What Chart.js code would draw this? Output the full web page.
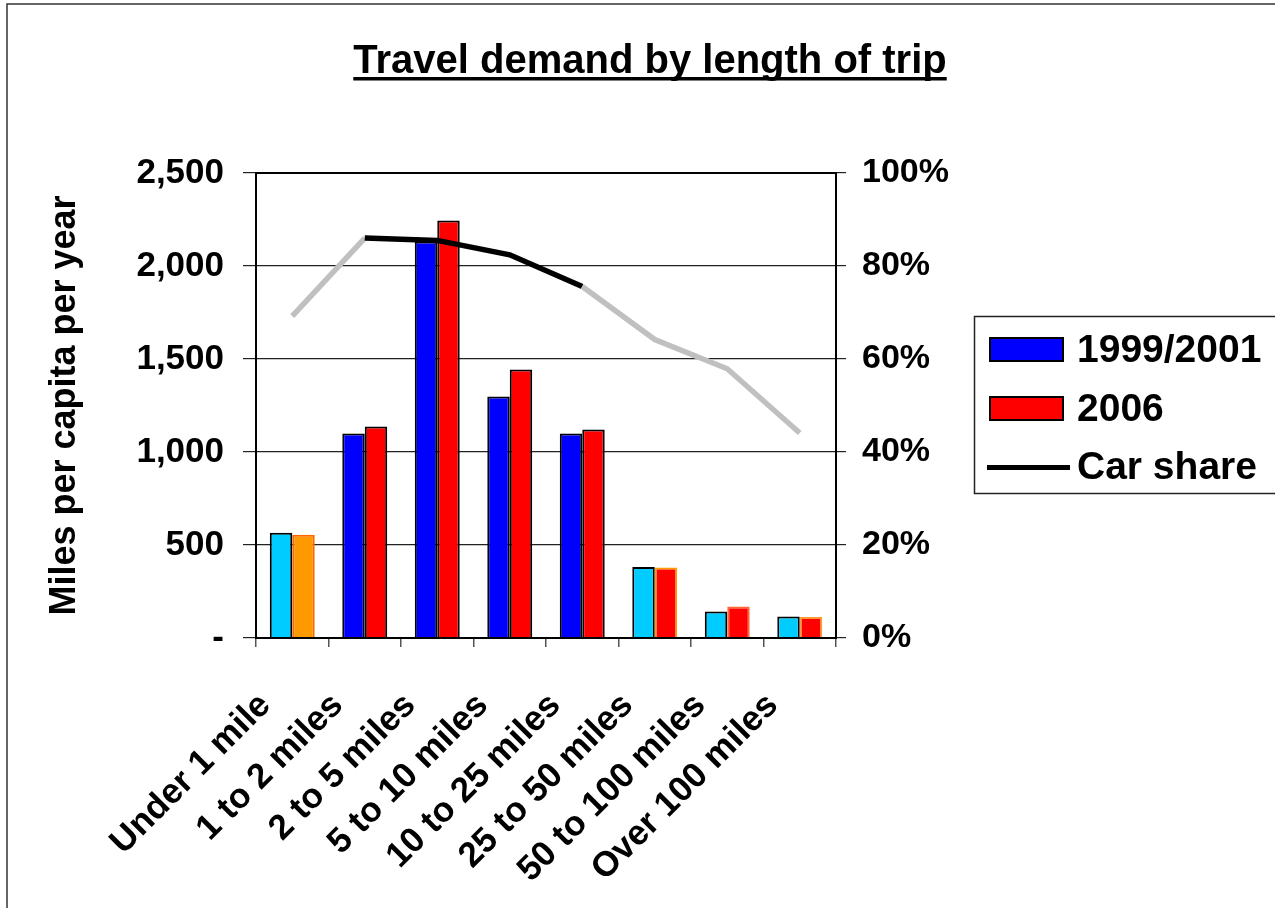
<!DOCTYPE html>
<html><head><meta charset="utf-8">
<script src="https://cdn.jsdelivr.net/npm/chart.js@4/dist/chart.umd.min.js"></script>
<style>html,body{margin:0;padding:0;background:#fff;overflow:hidden}</style>
</head><body>
<canvas id="c" width="1275" height="908"></canvas>
<script>
const categories = ['Under 1 mile','1 to 2 miles','2 to 5 miles','5 to 10 miles','10 to 25 miles','25 to 50 miles','50 to 100 miles','Over 100 miles'];
const miles1999 = [566, 1100, 2132, 1298, 1100, 382, 143, 116];
const miles2006 = [555, 1137, 2244, 1443, 1121, 379, 170, 113];
const carShare = [0.692, 0.860, 0.855, 0.824, 0.756, 0.642, 0.579, 0.441];
const leftTicks = [0, 500, 1000, 1500, 2000, 2500];
const rightTicks = [0, 0.2, 0.4, 0.6, 0.8, 1.0];
const seriesNames = ['1999/2001', '2006', 'Car share'];

const fill1999 = ['#00CCFF','#0000FF','#0000FF','#0000FF','#0000FF','#00CCFF','#00CCFF','#00CCFF'];
const edge1999 = ['#000','#000','#000','#000','#000','#000','#000','#000'];
const fill2006 = ['#FF9900','#FF0000','#FF0000','#FF0000','#FF0000','#FF0000','#FF0000','#FF0000'];
const edge2006 = ['#FF6600','#000','#000','#000','#000','#FF9900','#FF6633','#FF9933'];
const blackSegments = [1, 2, 3]; // segment index (from point i to i+1) drawn black

const FONT = '"Liberation Sans", Arial, sans-serif';

const decor = {
  id: 'decor',
  beforeDraw(chart) {
    const ctx = chart.ctx;
    ctx.save();
    ctx.fillStyle = '#fff';
    ctx.fillRect(0, 0, chart.width, chart.height);
    ctx.restore();
  },
  afterDraw(chart) {
    const ctx = chart.ctx;
    const a = chart.chartArea;
    ctx.save();
    // outer frame (top + left)
    ctx.strokeStyle = '#333';
    ctx.lineWidth = 1.5;
    ctx.beginPath();
    ctx.moveTo(7, 910); ctx.lineTo(7, 4); ctx.lineTo(1280, 4);
    ctx.stroke();
    // plot border
    ctx.strokeStyle = '#000';
    ctx.lineWidth = 2;
    ctx.strokeRect(a.left, a.top, a.right - a.left, a.bottom - a.top);
    // title
    ctx.fillStyle = '#000';
    ctx.font = 'bold 40px ' + FONT;
    ctx.textAlign = 'center';
    ctx.textBaseline = 'alphabetic';
    const t = 'Travel demand by length of trip';
    const cx = 650;
    ctx.fillText(t, cx, 73);
    const w = ctx.measureText(t).width;
    ctx.fillRect(cx - w / 2, 77, w, 3.5);
    // legend
    ctx.lineWidth = 1.5;
    ctx.strokeStyle = '#222';
    ctx.strokeRect(974.5, 316.5, 320, 177);
    ctx.font = 'bold 39px ' + FONT;
    ctx.textAlign = 'left';
    ctx.textBaseline = 'middle';
    const rows = [350, 409];
    [['#0000FF', seriesNames[0]], ['#FF0000', seriesNames[1]]].forEach((item, i) => {
      ctx.fillStyle = item[0];
      ctx.fillRect(990, rows[i] - 12, 73, 23);
      ctx.strokeStyle = '#000';
      ctx.lineWidth = 2;
      ctx.strokeRect(990, rows[i] - 12, 73, 23);
      ctx.fillStyle = '#000';
      ctx.fillText(item[1], 1077, rows[i] + 1);
    });
    ctx.fillStyle = '#000';
    ctx.fillRect(987, 465, 83, 5);
    ctx.fillText(seriesNames[2], 1077, 468);
    ctx.restore();
  }
};

new Chart(document.getElementById('c'), {
  type: 'bar',
  data: {
    labels: categories,
    datasets: [
      { type: 'line', label: seriesNames[2], data: carShare, yAxisID: 'y1', order: 0,
        borderColor: '#000', borderWidth: 5.5, pointRadius: 0, fill: false, tension: 0,
        borderCapStyle: 'butt', borderJoinStyle: 'miter',
        segment: { borderColor: c => blackSegments.includes(c.p0DataIndex) ? '#000' : '#C0C0C0' } },
      { label: seriesNames[0], data: miles1999, yAxisID: 'y', order: 1,
        backgroundColor: fill1999, borderColor: edge1999, borderWidth: 2,
        categoryPercentage: 0.62, barPercentage: 1.0 },
      { label: seriesNames[1], data: miles2006, yAxisID: 'y', order: 1,
        backgroundColor: fill2006, borderColor: edge2006, borderWidth: 2,
        categoryPercentage: 0.62, barPercentage: 1.0 }
    ]
  },
  options: {
    responsive: false,
    animation: false,
    devicePixelRatio: 1,
    layout: { padding: { top: 173, left: 0, right: 0, bottom: 0 } },
    plugins: { legend: { display: false }, tooltip: { enabled: false }, title: { display: false } },
    scales: {
      x: {
        offset: true,
        afterFit: s => { s.height = 270; },
        grid: { offset: true, drawOnChartArea: false, drawTicks: true, tickLength: 9, color: '#555', lineWidth: 1.5 },
        border: { display: true, color: '#000', width: 2 },
        ticks: { color: '#000', font: { family: FONT, size: 35, weight: 'bold' }, minRotation: 45, maxRotation: 45, autoSkip: false, padding: 38, labelOffset: -27 }
      },
      y: {
        position: 'left', min: 0, max: 2500,
        afterFit: s => { s.width = 256; },
        afterBuildTicks: s => { s.ticks = leftTicks.map(v => ({ value: v })); },
        grid: { color: '#222', lineWidth: 1.2, tickLength: 13, drawTicks: true },
        border: { display: true, color: '#000', width: 2 },
        ticks: { color: '#000', font: { family: FONT, size: 35, weight: 'bold' }, padding: 19,
          callback: v => v === 0 ? '-' : v.toLocaleString('en-US') },
        title: { display: true, text: 'Miles per capita per year', color: '#000',
          font: { family: FONT, size: 36, weight: 'bold' }, padding: { top: 43, bottom: 0 } }
      },
      y1: {
        position: 'right', min: 0, max: 1,
        afterFit: s => { s.width = 1275 - 836; },
        afterBuildTicks: s => { s.ticks = rightTicks.map(v => ({ value: v })); },
        grid: { drawOnChartArea: false, drawTicks: true, tickLength: 10, color: '#222', lineWidth: 1.2 },
        border: { display: true, color: '#000', width: 2 },
        ticks: { color: '#000', font: { family: FONT, size: 34, weight: 'bold' }, padding: 16,
          callback: v => Math.round(v * 100) + '%' }
      }
    }
  },
  plugins: [decor]
});
</script>
</body></html>
